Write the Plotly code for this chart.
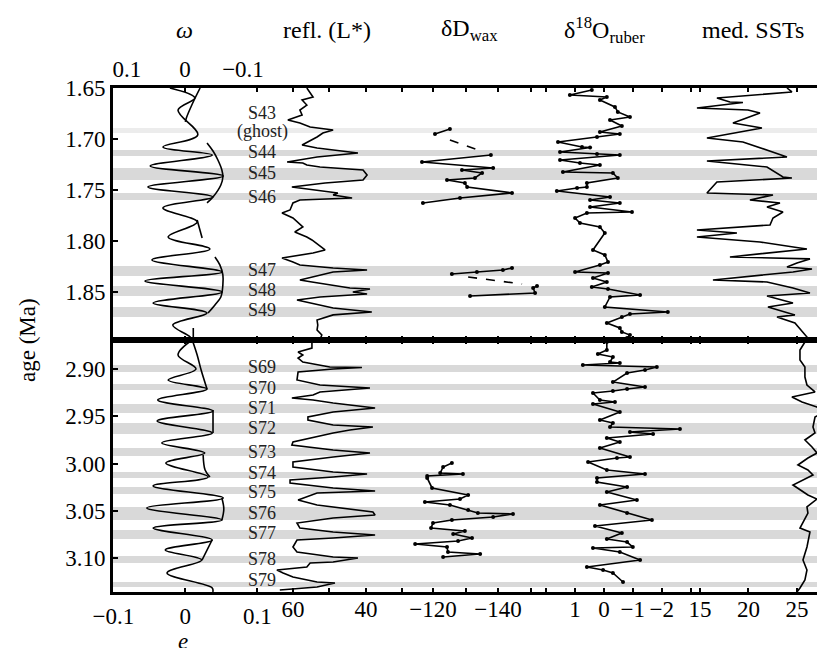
import plotly.graph_objects as go

FONT = "Liberation Serif"

# ---------------- axis ranges (each column has its own x scale) ----------------
OMEGA_RANGE = [0.1241, -1.1034]
E_RANGE = [-0.1005, 0.8884]
REFL_RANGE = [109.3, -85.75]
DD_RANGE = [-21.54, -240.6]
O18_RANGE = [16.99, -7.65]
SST_RANGE = [-45.5, 27.89]
Y_TOP_RANGE = [1.8971, 1.65]
Y_BOT_RANGE = [3.136, 2.8693]

# ---------------- tick values / labels ----------------
Y_TOP_TICKS = [1.65, 1.70, 1.75, 1.80, 1.85]
Y_TOP_TEXT = ["1.65", "1.70", "1.75", "1.80", "1.85"]
Y_BOT_TICKS = [2.90, 2.95, 3.00, 3.05, 3.10]
Y_BOT_TEXT = ["2.90", "2.95", "3.00", "3.05", "3.10"]
OMEGA_TICKS = [0.1, 0, -0.1]
OMEGA_TEXT = ["0.1", "0", "−0.1"]
E_TICKS = [-0.1, 0, 0.1]
E_TEXT = ["−0.1", "0", "0.1"]
REFL_TICKS = [60, 50, 40, 30]
REFL_TEXT = ["60", "", "40", ""]
DD_TICKS = [-120, -130, -140, -150]
DD_TEXT = ["−120", "", "−140", ""]
O18_TICKS = [2, 1, 0, -1, -2, -3]
O18_TEXT = ["", "1", "0", "−1", "−2", ""]
SST_TICKS = [15, 20, 25]
SST_TEXT = ["15", "20", "25"]

# ---------------- sapropel bands ----------------
GHOST_START = [1.6892]
GHOST_END = [1.6941]
BAND_TOP_START = [1.7108, 1.7284, 1.7529, 1.8245, 1.8441, 1.8647]
BAND_TOP_END = [1.7167, 1.7402, 1.7598, 1.8343, 1.8539, 1.8745]
BAND_BOT_START = [2.8958, 2.9159, 2.9370, 2.9571, 2.9836, 3.0090, 3.0249, 3.0460, 3.0704, 3.0979, 3.1254]
BAND_BOT_END = [2.9032, 2.9222, 2.9466, 2.9688, 2.9921, 3.0153, 3.0323, 3.0598, 3.0799, 3.1053, 3.1307]

LABEL_TOP = ["S43", "(ghost)", "S44", "S45", "S46", "S47", "S48", "S49"]
LABEL_TOP_AGE = [1.6745, 1.6931, 1.7127, 1.7333, 1.7569, 1.8284, 1.8480, 1.8676]
LABEL_BOT = ["S69", "S70", "S71", "S72", "S73", "S74", "S75", "S76", "S77", "S78", "S79"]
LABEL_BOT_AGE = [2.8979, 2.9201, 2.9413, 2.9624, 2.9878, 3.0101, 3.0302, 3.0524, 3.0735, 3.1011, 3.1233]

# ---------------- precession (omega axis) ----------------
PREC_TOP_AGE = [1.650, 1.6598, 1.6716, 1.6961, 1.7078, 1.7157, 1.7265, 1.7363, 1.7471, 1.7569,
                1.7676, 1.7814, 1.7961, 1.8078, 1.8186, 1.8304, 1.8392, 1.8500, 1.8608, 1.8706,
                1.8824, 1.8941, 1.8990]
PREC_TOP = [0.026, -0.017, 0.012, -0.022, 0.038, -0.047, 0.060, -0.066, 0.064, -0.048,
            0.038, -0.021, 0.029, -0.043, 0.057, -0.064, 0.069, -0.064, 0.055, -0.038,
            0.021, -0.009, -0.014]
PREC_BOT_AGE = [2.8693, 2.8852, 2.9000, 2.9116, 2.9212, 2.9328, 2.9444, 2.9550, 2.9677, 2.9783,
                2.9889, 2.9995, 3.0143, 3.0238, 3.0365, 3.0471, 3.0598, 3.0683, 3.0810, 3.0915,
                3.1021, 3.1159, 3.1317, 3.1360]
PREC_BOT = [-0.012, 0.012, -0.019, 0.029, -0.038, 0.047, -0.048, 0.048, -0.047, 0.040,
            -0.034, 0.033, -0.040, 0.055, -0.066, 0.066, -0.064, 0.055, -0.047, 0.034,
            -0.029, 0.031, -0.047, -0.048]

# ---------------- eccentricity (e axis) ----------------
E_TOP_AGE = [1.650, 1.6657, 1.6794, 1.6833, None,
             1.7039, 1.7118, 1.7206, 1.7304, 1.7373, 1.7451, 1.7569, 1.7627, None,
             1.7794, 1.7971, None,
             1.8157, 1.8235, 1.8333, 1.8431, 1.8549, 1.8627, 1.8706, None,
             1.8853, 1.8990]
E_TOP = [0.0205, 0.0096, 0.0014, 0.0, None,
         0.0301, 0.0384, 0.0452, 0.0507, 0.0521, 0.0493, 0.0384, 0.0301, None,
         0.0164, 0.0233, None,
         0.0411, 0.0479, 0.0521, 0.0521, 0.0493, 0.0411, 0.0315, None,
         0.011, 0.011]
E_BOT_AGE = [2.8693, 2.8852, 2.9011, 2.9212, None,
             2.9434, 2.9677, None,
             2.9910, 3.0069, 3.0143, None,
             3.0365, 3.0481, 3.0598, None,
             3.0810, 3.1021]
E_BOT = [0.0096, 0.0164, 0.0219, 0.0301, None,
         0.0384, 0.0384, None,
         0.0247, 0.0274, 0.0342, None,
         0.0507, 0.0534, 0.0507, None,
         0.037, 0.0233]

# ---------------- reflectance L* ----------------
REFL_TOP_AGE = [1.650, 1.6588, 1.6618, 1.6667, 1.6716, 1.6765, 1.6814, 1.6843, 1.6882, 1.6892,
                1.6912, 1.6941, 1.6980, 1.7059, 1.7088, 1.7137, 1.7176, 1.7225, 1.7235, 1.7255,
                1.7275, 1.7304, 1.7353, 1.7402, 1.7431, 1.7471, 1.7510, 1.7529, 1.7549, 1.7578,
                1.7598, 1.7627, 1.7696, 1.7725, 1.7775, 1.7863, 1.7912, 1.7961, 1.7990, 1.8088,
                1.8118, 1.8167, 1.8206, 1.8235, 1.8265, 1.8284, 1.8304, 1.8333, 1.8382, 1.8402,
                1.8461, 1.8471, 1.8500, 1.8520, 1.8549, 1.8578, 1.8608, 1.8657, 1.8696, 1.8725,
                1.8775, 1.8824, 1.8873, 1.8922, 1.8971]
REFL_TOP = [56.2, 54.5, 57.5, 56.2, 58.1, 57.5, 61.4, 58.1, 55.3, 52.6,
            49.0, 51.8, 53.4, 57.5, 53.4, 42.2, 53.4, 61.6, 57.3, 56.2,
            52.6, 40.8, 39.7, 40.8, 51.2, 60.3, 52.6, 47.7, 49.0, 43.8,
            58.1, 60.0, 60.8, 63.0, 60.0, 57.3, 59.5, 56.2, 54.8, 51.2,
            54.5, 63.0, 60.0, 58.1, 49.0, 39.7, 49.0, 52.6, 58.1, 54.8,
            44.4, 38.9, 43.6, 39.7, 52.6, 58.9, 55.3, 49.0, 38.4, 49.0,
            53.4, 53.2, 53.4, 52.1, 52.6]
REFL_BOT_AGE = [2.8693, 2.8778, 2.8820, 2.8852, 2.8884, 2.8926, 2.8979, 2.8984, 2.9000, 2.9032,
                2.9116, 2.9169, 2.9201, 2.9243, 2.9275, 2.9307, 2.9328, 2.9360, 2.9413, 2.9455,
                2.9508, 2.9540, 2.9593, 2.9614, 2.9646, 2.9677, 2.9772, 2.9804, 2.9857, 2.9889,
                2.9931, 2.9984, 3.0037, 3.0090, 3.0111, 3.0143, 3.0175, 3.0206, 3.0259, 3.0291,
                3.0312, 3.0386, 3.0439, 3.0513, 3.0545, 3.0577, 3.0630, 3.0683, 3.0725, 3.0757,
                3.0788, 3.0810, 3.0884, 3.0937, 3.0989, 3.1000, 3.1042, 3.1053, 3.1095, 3.1127,
                3.1159, 3.1201, 3.1254, 3.1265, 3.1307, 3.1339]
REFL_BOT = [54.8, 54.8, 58.6, 57.3, 58.6, 57.3, 49.9, 41.1, 49.0, 58.6,
            58.9, 52.6, 38.9, 52.6, 54.5, 60.3, 54.5, 49.0, 37.5, 49.0,
            55.9, 55.9, 49.0, 38.1, 44.4, 49.0, 60.0, 60.3, 49.0, 38.9,
            49.0, 60.0, 60.0, 49.0, 39.7, 49.0, 60.8, 60.8, 49.0, 37.5,
            53.4, 58.6, 53.4, 38.1, 37.5, 49.0, 58.9, 58.1, 49.0, 37.5,
            49.0, 58.9, 60.0, 58.9, 49.0, 42.2, 49.0, 55.3, 56.2, 64.4,
            62.7, 60.0, 53.4, 48.5, 53.4, 63.6]

# ---------------- dD wax ----------------
DD_TOP_AGE = [1.6902, 1.6951, None,
              1.7157, 1.7225, 1.7284, 1.7304, 1.7333, 1.7382, 1.7402, 1.7431, 1.7471, 1.7529,
              1.7578, 1.7627, None,
              1.8265, 1.8284, 1.8304, 1.8324, None,
              1.8441, 1.8461, 1.8510, 1.8539]
DD_TOP = [-125.2, -120.6, None,
          -137.8, -116.6, -138.5, -128.9, -135.1, -132.9, -124.3, -129.8, -130.5, -144.3,
          -128.3, -116.9, None,
          -144.3, -141.5, -133.5, -125.8, None,
          -152.0, -150.8, -151.4, -131.4]
DD_TOP_DASH_AGE = [1.7010, 1.7108, None, 1.8353, 1.8422]
DD_TOP_DASH = [-125.2, -133.8, None, -130.8, -147.4]
DD_BOT_AGE = [2.9995, 3.0037, 3.0101, 3.0111, 3.0132, 3.0153, 3.0259, 3.0333, 3.0376, 3.0407,
              3.0439, 3.0492, 3.0524, 3.0534, 3.0566, 3.0598, 3.0630, 3.0683, 3.0714, 3.0746,
              3.0788, 3.0820, 3.0852, 3.0884, 3.0937, 3.0958, 3.0989]
DD_BOT = [-125.8, -123.1, -122.2, -129.2, -118.2, -118.2, -119.7, -130.8, -128.3, -117.5,
          -125.2, -130.8, -133.8, -144.6, -138.5, -125.8, -120.0, -119.4, -129.8, -126.2,
          -132.0, -127.7, -114.5, -124.3, -124.6, -134.5, -123.1]

# ---------------- d18O ruber ----------------
O18_TOP_AGE = [1.6520, 1.6569, 1.6588, 1.6618, 1.6686, 1.6735, 1.6784, 1.6814, 1.6873, 1.6931,
               1.6951, 1.6980, 1.7029, 1.7078, 1.7083, 1.7127, 1.7147, 1.7157, 1.7206, 1.7235,
               1.7255, 1.7324, 1.7333, 1.7382, 1.7431, 1.7471, 1.7480, 1.7510, 1.7569, 1.7598,
               1.7627, 1.7667, 1.7716, 1.7725, 1.7775, 1.7824, 1.7863, 1.7922, 1.8088, 1.8137,
               1.8206, 1.8235, 1.8304, 1.8314, 1.8363, 1.8402, 1.8451, 1.8471, 1.8529, 1.8549,
               1.8647, 1.8696, 1.8716, 1.8745, 1.8804, 1.8853, 1.8892, 1.8922, 1.8951]
O18_TOP = [0.42, 1.18, -0.10, 0.14, -0.38, -0.48, -0.90, -0.21, -0.62, 0.14,
           -0.55, 0.24, 1.59, 0.76, 0.48, 1.52, 0.24, -0.55, 1.52, 0.83,
           0.14, 1.42, -0.31, -0.48, 0.59, 0.59, 0.93, 1.63, -0.21, 0.48,
           -0.55, 0.48, -0.97, 0.59, 1.00, 0.83, 0.14, -0.03, 0.38, -0.03,
           -0.14, 0.14, 1.00, -0.14, 0.38, -0.10, 0.42, -0.14, -1.25, -0.21,
           -0.03, -2.21, -0.90, -0.62, -0.10, -0.55, -0.62, -0.90, -0.80]
O18_BOT_AGE = [2.8714, 2.8799, 2.8841, 2.8873, 2.8926, 2.8937, 2.8958, 2.8979, 2.9011, 2.9042,
               2.9138, 2.9190, 2.9212, 2.9233, 2.9254, 2.9328, 2.9349, 2.9370, 2.9455, 2.9540,
               2.9571, 2.9614, 2.9635, 2.9667, 2.9688, 2.9730, 2.9772, 2.9836, 2.9931, 2.9942,
               2.9984, 3.0069, 3.0111, 3.0153, 3.0196, 3.0249, 3.0302, 3.0386, 3.0439, 3.0524,
               3.0598, 3.0661, 3.0735, 3.0799, 3.0831, 3.0884, 3.0894, 3.0937, 3.1021, 3.1095,
               3.1127, 3.1159, 3.1254]
O18_BOT = [-0.10, -0.10, 0.21, -0.31, -0.21, -0.55, 0.73, -1.83, -1.42, -0.80,
           -0.31, -1.42, -0.80, -0.31, 0.38, 0.14, -0.38, 0.38, -0.55, 0.14,
           -0.31, -0.21, -2.63, -0.90, -1.70, -0.10, -0.55, 0.14, -0.90, -0.45,
           0.55, -0.10, -1.42, 0.24, 0.24, -0.80, -0.10, -1.14, 0.14, -0.80,
           -1.66, 0.31, -0.62, -0.10, -0.80, -1.00, 0.38, -0.55, -1.25, 0.59,
           0.03, -0.31, -0.66]

# ---------------- median SSTs ----------------
SST_TOP_AGE = [1.650, 1.6539, 1.6598, 1.6637, 1.6642, 1.6696, 1.6716, 1.6745, 1.6843, 1.6892,
               1.6990, 1.7029, 1.7176, 1.7216, 1.7275, 1.7373, 1.7382, 1.7422, 1.7529, 1.7549,
               1.7598, 1.7627, 1.7667, 1.7716, 1.7775, 1.7843, 1.7892, 1.7922, 1.7961, 1.8010,
               1.8069, 1.8078, 1.8157, 1.8176, 1.8216, 1.8255, 1.8275, 1.8304, 1.8382, 1.8402,
               1.8461, 1.8510, 1.8539, 1.8608, 1.8647, 1.8725, 1.8745, 1.8804, 1.8941, 1.8971]
SST_TOP = [23.97, 24.48, 16.75, 18.09, 19.43, 14.69, 19.95, 21.19, 18.40, 21.39,
           15.72, 19.43, 23.97, 15.72, 21.91, 23.56, 24.48, 16.75, 15.72, 22.53,
           20.15, 23.25, 21.91, 23.56, 22.53, 22.22, 14.69, 18.81, 14.69, 21.19,
           25.31, 26.03, 18.09, 26.34, 25.00, 23.97, 26.55, 24.59, 16.34, 21.91,
           24.59, 26.34, 21.91, 24.59, 22.01, 24.79, 22.94, 24.79, 26.03, 25.82]
SST_BOT_AGE = [2.8714, 2.8799, 2.8905, 2.8979, 2.9085, 2.9169, 2.9243, 2.9296, 2.9349, 2.9402,
               2.9466, 2.9508, 2.9614, 2.9677, 2.9751, 2.9825, 2.9889, 2.9942, 3.0016, 3.0069,
               3.0122, 3.0228, 3.0333, 3.0376, 3.0460, 3.0524, 3.0683, 3.0725, 3.0884, 3.1021,
               3.1127, 3.1233, 3.1317, 3.1360]
SST_BOT = [25.82, 25.31, 25.31, 25.82, 25.82, 26.03, 26.86, 24.48, 25.52, 27.06,
           27.58, 26.86, 26.65, 26.86, 25.82, 26.55, 27.06, 26.13, 25.10, 26.13,
           26.65, 24.59, 26.13, 27.06, 26.03, 26.13, 25.31, 26.34, 26.03, 25.62,
           26.03, 25.82, 25.31, 25.00]

# ---------------- column titles ----------------
TITLES = ["<i>ω</i>", "refl. (L*)", "δD<sub>wax</sub>", "δ<sup>18</sup>O<sub>ruber</sub>", "med. SSTs"]
TITLE_X = [0.1011, 0.3006, 0.5014, 0.691, 0.8989]

LW = 1.6
fig = go.Figure()


def add_line(x, y, xa, ya, shape="linear", markers=False, dash="solid"):
    fig.add_trace(go.Scatter(
        x=x, y=y, xaxis=xa, yaxis=ya,
        mode="lines+markers" if markers else "lines",
        line=dict(color="black", width=LW, shape=shape, dash=dash),
        marker=dict(color="black", size=4),
        connectgaps=False, hoverinfo="skip", showlegend=False))


# top panel
add_line(E_TOP, E_TOP_AGE, "x", "y", shape="spline")
add_line(PREC_TOP, PREC_TOP_AGE, "x11", "y", shape="spline")
add_line(REFL_TOP, REFL_TOP_AGE, "x2", "y")
add_line(DD_TOP, DD_TOP_AGE, "x3", "y", markers=True)
add_line(DD_TOP_DASH, DD_TOP_DASH_AGE, "x3", "y", dash="dash")
add_line(O18_TOP, O18_TOP_AGE, "x4", "y", markers=True)
add_line(SST_TOP, SST_TOP_AGE, "x5", "y")
# bottom panel
add_line(E_BOT, E_BOT_AGE, "x6", "y2", shape="spline")
add_line(PREC_BOT, PREC_BOT_AGE, "x12", "y2", shape="spline")
add_line(REFL_BOT, REFL_BOT_AGE, "x7", "y2")
add_line(DD_BOT, DD_BOT_AGE, "x8", "y2", markers=True)
add_line(O18_BOT, O18_BOT_AGE, "x9", "y2", markers=True)
add_line(SST_BOT, SST_BOT_AGE, "x10", "y2")

TICK_SIZE = 23
tickfont = dict(family=FONT, size=TICK_SIZE, color="black")


def xaxis(rng, vals, text, anchor, side, overlay=None, labels=False, line=False, ticks="inside",
          standoff=1):
    d = dict(range=rng, domain=[0, 1], anchor=anchor, side=side, automargin=False,
             showgrid=False, zeroline=False, tickmode="array", tickvals=vals, ticktext=text,
             showticklabels=labels, ticks=ticks, ticklen=4, tickwidth=1.5, tickcolor="black",
             tickfont=tickfont, tickangle=0, ticklabelstandoff=standoff,
             showline=line, linecolor="black", linewidth=3,
             mirror=("ticks" if ticks else False))
    if overlay:
        d["overlaying"] = overlay
    return d


layout_axes = {
    "xaxis": xaxis(E_RANGE, E_TICKS, E_TEXT, "y", "top", line=True),
    "xaxis2": xaxis(REFL_RANGE, REFL_TICKS, REFL_TEXT, "y", "top", overlay="x"),
    "xaxis3": xaxis(DD_RANGE, DD_TICKS, DD_TEXT, "y", "top", overlay="x"),
    "xaxis4": xaxis(O18_RANGE, O18_TICKS, O18_TEXT, "y", "top", overlay="x"),
    "xaxis5": xaxis(SST_RANGE, SST_TICKS, SST_TEXT, "y", "top", overlay="x"),
    "xaxis6": xaxis(E_RANGE, E_TICKS, E_TEXT, "y2", "bottom", labels=True, line=True),
    "xaxis7": xaxis(REFL_RANGE, REFL_TICKS, REFL_TEXT, "y2", "bottom", overlay="x6", labels=True),
    "xaxis8": xaxis(DD_RANGE, DD_TICKS, DD_TEXT, "y2", "bottom", overlay="x6", labels=True),
    "xaxis9": xaxis(O18_RANGE, O18_TICKS, O18_TEXT, "y2", "bottom", overlay="x6", labels=True),
    "xaxis10": xaxis(SST_RANGE, SST_TICKS, SST_TEXT, "y2", "bottom", overlay="x6", labels=True),
    "xaxis11": xaxis(OMEGA_RANGE, OMEGA_TICKS, OMEGA_TEXT, "y", "top", overlay="x", labels=True,
                     ticks="", standoff=5),
    "xaxis12": xaxis(OMEGA_RANGE, OMEGA_TICKS, OMEGA_TEXT, "y2", "bottom", overlay="x6", ticks=""),
}

yax_common = dict(showgrid=False, zeroline=False, tickmode="array", ticks="inside", ticklen=5,
                  tickwidth=1.5, tickcolor="black", tickfont=tickfont, ticklabelstandoff=0,
                  automargin=False,
                  showline=True, linecolor="black", linewidth=3, mirror=False)

shapes = []
for a, b in zip(GHOST_START, GHOST_END):
    shapes.append(dict(type="rect", xref="paper", yref="y", x0=0, x1=1, y0=a, y1=b,
                       fillcolor="#ececec", line=dict(width=0), layer="below"))
for a, b in zip(BAND_TOP_START, BAND_TOP_END):
    shapes.append(dict(type="rect", xref="paper", yref="y", x0=0, x1=1, y0=a, y1=b,
                       fillcolor="#d9d9d9", line=dict(width=0), layer="below"))
for a, b in zip(BAND_BOT_START, BAND_BOT_END):
    shapes.append(dict(type="rect", xref="paper", yref="y2", x0=0, x1=1, y0=a, y1=b,
                       fillcolor="#d9d9d9", line=dict(width=0), layer="below"))

ann_common = dict(showarrow=False, xanchor="center", yanchor="middle")
annotations = []
for t, a in zip(LABEL_TOP, LABEL_TOP_AGE):
    annotations.append(dict(text=t, xref="paper", yref="y", x=0.2093, y=a,
                            font=dict(family=FONT, size=18, color="#222"), **ann_common))
for t, a in zip(LABEL_BOT, LABEL_BOT_AGE):
    annotations.append(dict(text=t, xref="paper", yref="y2", x=0.2093, y=a,
                            font=dict(family=FONT, size=18, color="#222"), **ann_common))
for t, xp in zip(TITLES, TITLE_X):
    annotations.append(dict(text=t, xref="paper", yref="paper", x=xp, y=1.115,
                            font=dict(family=FONT, size=24, color="black"), **ann_common))
annotations.append(dict(text="<i>e</i>", xref="paper", yref="paper", x=0.0983, y=-0.0992,
                        font=dict(family=FONT, size=23, color="black"), **ann_common))
annotations.append(dict(text="age (Ma)", xref="paper", yref="paper", x=-0.1208, y=0.5,
                        textangle=-90, font=dict(family=FONT, size=23, color="black"), **ann_common))

# the page body adds an 8 px margin, so the figure is 8 px smaller and the margins 8 px tighter
fig.update_layout(
    width=817, height=640,
    margin=dict(l=105, r=0, t=80, b=56, autoexpand=False),
    paper_bgcolor="white", plot_bgcolor="rgba(0,0,0,0)",
    showlegend=False,
    yaxis=dict(domain=[0.5, 1], range=Y_TOP_RANGE, anchor="x", tickvals=Y_TOP_TICKS,
               ticktext=Y_TOP_TEXT, **yax_common),
    yaxis2=dict(domain=[0, 0.5], range=Y_BOT_RANGE, anchor="x6", tickvals=Y_BOT_TICKS,
                ticktext=Y_BOT_TEXT, **yax_common),
    shapes=shapes, annotations=annotations,
    **layout_axes,
)

fig.write_html("out.html")
